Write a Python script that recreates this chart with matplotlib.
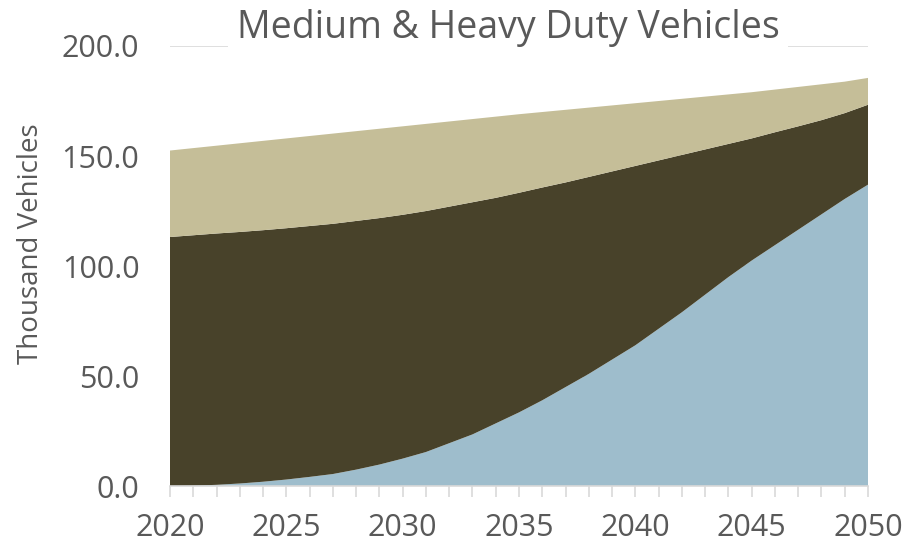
import matplotlib.pyplot as plt
from matplotlib.ticker import MultipleLocator

plt.rcParams['font.family'] = ['Open Sans', 'DejaVu Sans']

years = list(range(2020, 2051))

# thousand vehicles per layer
zero_emission = [0.0, 0.2, 0.6, 1.2, 2.0, 3.0, 4.2, 5.5, 7.5, 9.8,
                 12.5, 15.5, 19.5, 23.5, 28.5, 33.5, 39.0, 45.0, 51.0, 57.5,
                 64.0, 71.5, 79.0, 87.0, 95.0, 102.5, 109.5, 116.5, 123.5, 130.5,
                 137.0]
conventional = [113.2, 113.8, 114.2, 114.3, 114.3, 114.2, 114.0, 113.7, 113.0, 112.0,
                110.8, 109.5, 107.5, 105.5, 102.5, 99.8, 96.7, 93.0, 89.5, 85.5,
                81.5, 76.5, 71.5, 66.0, 60.5, 55.5, 51.3, 47.0, 42.8, 39.0,
                36.3]
other = [39.3, 39.6, 39.9, 40.3, 40.6, 40.8, 40.9, 41.0, 40.8, 40.6,
         40.2, 39.6, 38.7, 37.8, 36.9, 35.7, 34.3, 33.0, 31.5, 30.0,
         28.5, 27.0, 25.5, 24.0, 22.5, 21.0, 19.4, 17.9, 16.3, 14.3,
         12.2]

colors = ['#9EBDCC', '#48422A', '#C5BE98']
text_color = '#595959'
grid_color = '#D9D9D9'

fig = plt.figure(figsize=(9.07, 5.45), dpi=100)
ax = fig.add_axes([0.1874, 0.108, 0.7696, 0.8076])

ax.stackplot(years, zero_emission, conventional, other, colors=colors,
             linewidth=0, zorder=2)

ax.set_xlim(2020, 2050)
ax.set_ylim(0, 200)
ax.yaxis.set_major_locator(MultipleLocator(50))
ax.xaxis.set_major_locator(MultipleLocator(5))
ax.xaxis.set_minor_locator(MultipleLocator(1))
ax.yaxis.set_major_formatter(plt.FormatStrFormatter('%.1f'))

ax.grid(axis='y', color=grid_color, linewidth=1.2, zorder=0)
ax.set_axisbelow(True)
for side in ['left', 'right', 'top']:
    ax.spines[side].set_visible(False)
ax.spines['bottom'].set_color(grid_color)
ax.spines['bottom'].set_linewidth(1.2)
ax.spines['bottom'].set_zorder(3)

ax.tick_params(axis='y', length=0, labelsize=22, labelcolor=text_color, pad=22)
ax.tick_params(axis='x', which='both', length=8, width=1.2, color=grid_color,
               labelsize=22, labelcolor=text_color, pad=11)

ax.set_ylabel('Thousand Vehicles', fontsize=20, color=text_color, labelpad=12)
ax.yaxis.label.set_y(0.55)

fig.text(0.5601, 0.948, 'Medium & Heavy Duty Vehicles', fontsize=27,
         color=text_color, ha='center', va='center',
         bbox=dict(facecolor='white', edgecolor='none', pad=6))

fig.savefig('out.png', dpi=100)
